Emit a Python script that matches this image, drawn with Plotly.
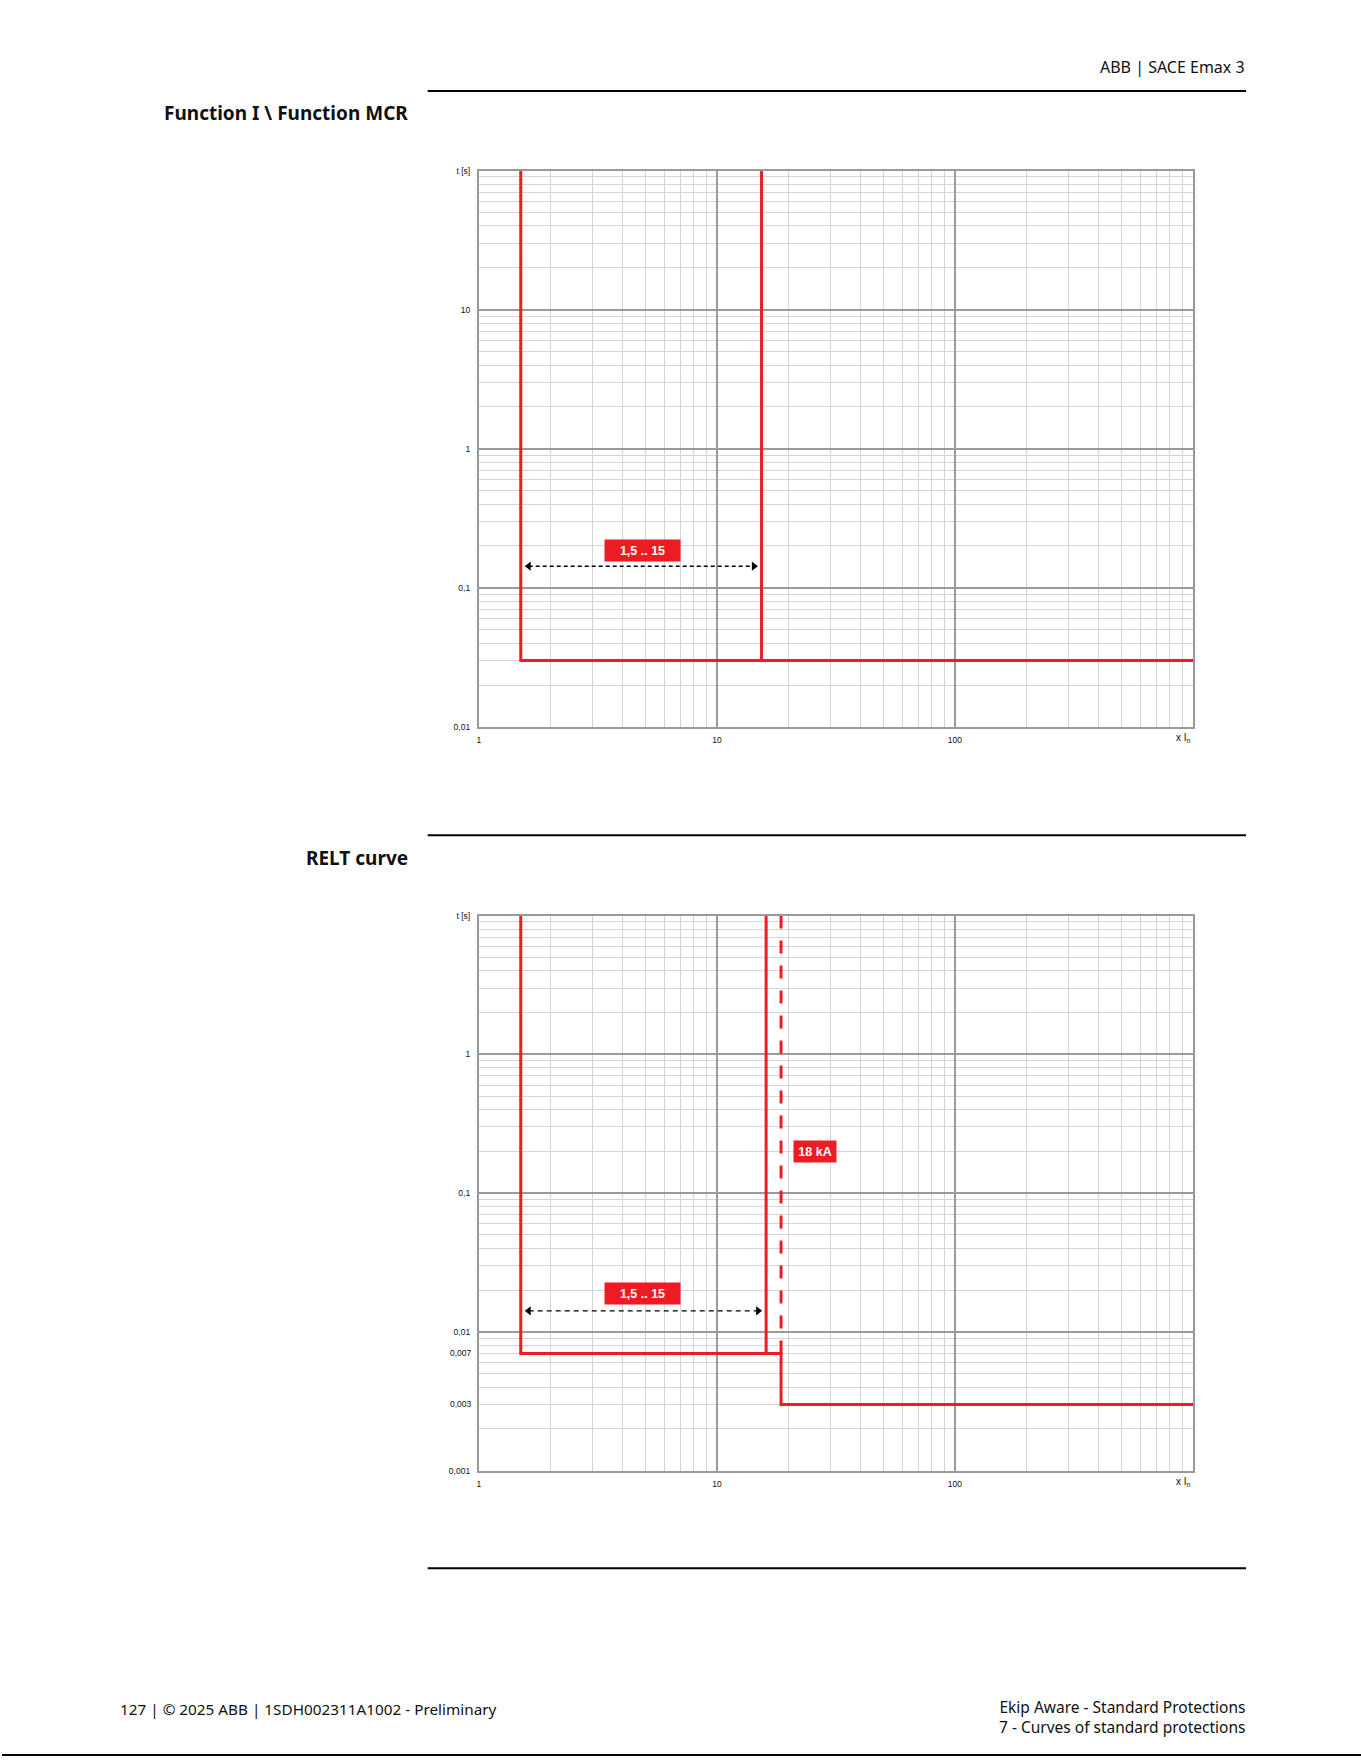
import math
import plotly.graph_objects as go

# ---------------- data ----------------
# Chart 1: Function I \ Function MCR
c1_curve_x = [1.5, 1.5, 1000]
c1_curve_t = [100, 0.03, 0.03]
c1_max_x = [15.4, 15.4]
c1_max_t = [100, 0.03]
c1_arrow_x = [1.62, 14.3]
c1_arrow_t = [0.143, 0.143]
c1_label = "1,5 .. 15"
c1_label_pos = [4.86, 0.185]

# Chart 2: RELT curve
c2_curve_x = [1.5, 1.5, 18.6, 18.6, 1000]
c2_curve_t = [10, 0.007, 0.007, 0.003, 0.003]
c2_max_x = [16.1, 16.1]
c2_max_t = [10, 0.007]
c2_dash_x = [18.6, 18.6]
c2_dash_t = [10, 0.007]
c2_arrow_x = [1.62, 14.9]
c2_arrow_t = [0.0142, 0.0142]
c2_label = "1,5 .. 15"
c2_label_pos = [4.86, 0.0188]
c2_ka_label = "18 kA"
c2_ka_pos = [25.8, 0.2]

x_tickvals = [1, 10, 100]
x_ticktext = ["1", "10", "100"]
x_unit_val = 1000
x_unit_text = "x I<sub>n</sub>"
y1_tickvals = [0.01, 0.1, 1, 10, 100]
y1_ticktext = ["0,01", "0,1", "1", "10", "t [s]"]
y2_tickvals = [0.001, 0.01, 0.1, 1, 10]
y2_ticktext = ["0,001", "0,01", "0,1", "1", "t [s]"]
y2_extra_vals = [0.007, 0.003]
y2_extra_text = ["0,007", "0,003"]

RED = "#ed1c24"
W, H = 1361, 1761
# small calibration of the page placement in the photographed window
SCX, BX = 1.0027, 0.45
SCY, BY = 1.00542, 3.88


def px_x(v):
    return (SCX * v - BX) / W


def px_y(v):
    return min(1.0, max(0.0, 1 - (SCY * v - BY) / H))


def minor_vals(lo_exp, hi_exp):
    return [m * 10 ** e for e in range(lo_exp, hi_exp) for m in range(2, 10)]


fig = go.Figure()

# chart 1 traces
fig.add_trace(go.Scatter(x=c1_curve_x, y=c1_curve_t, mode="lines",
                         line=dict(color=RED, width=3), xaxis="x", yaxis="y"))
fig.add_trace(go.Scatter(x=c1_max_x, y=c1_max_t, mode="lines",
                         line=dict(color=RED, width=3), xaxis="x", yaxis="y"))
fig.add_trace(go.Scatter(x=c1_arrow_x, y=c1_arrow_t, mode="lines+markers",
                         line=dict(color="black", width=1.6, dash="4px,3px"),
                         marker=dict(symbol=["triangle-left", "triangle-right"], size=8, color="black"),
                         xaxis="x", yaxis="y"))

# chart 2 traces
fig.add_trace(go.Scatter(x=c2_curve_x, y=c2_curve_t, mode="lines",
                         line=dict(color=RED, width=3), xaxis="x2", yaxis="y2"))
fig.add_trace(go.Scatter(x=c2_max_x, y=c2_max_t, mode="lines",
                         line=dict(color=RED, width=3), xaxis="x2", yaxis="y2"))
fig.add_trace(go.Scatter(x=c2_dash_x, y=c2_dash_t, mode="lines",
                         line=dict(color=RED, width=3, dash="13px,12px"), xaxis="x2", yaxis="y2"))
fig.add_trace(go.Scatter(x=c2_arrow_x, y=c2_arrow_t, mode="lines+markers",
                         line=dict(color="black", width=1.2, dash="5px,4px"),
                         marker=dict(symbol=["triangle-left", "triangle-right"], size=8, color="black"),
                         xaxis="x2", yaxis="y2"))

tickfont = dict(family="Liberation Sans", size=8.5, color="#111")
common_axis = dict(
    type="log", showline=True, mirror=True, linecolor="#999", linewidth=2,
    showgrid=True, gridcolor="#9a9a9a", gridwidth=1.5,
    ticks="", tickfont=tickfont, zeroline=False, fixedrange=True,
)

xdom = [px_x(476.7), px_x(1190)]
fig.update_layout(
    xaxis=dict(common_axis, domain=xdom, range=[0, 3], anchor="y",
               tickvals=x_tickvals, ticktext=x_ticktext, ticklabelstandoff=4,
               minor=dict(tickvals=minor_vals(0, 3), showgrid=True, gridcolor="#d4d4d4", gridwidth=1.3)),
    yaxis=dict(common_axis, domain=[px_y(726), px_y(169.5)], range=[-2, 2], anchor="x",
               tickvals=y1_tickvals, ticktext=y1_ticktext, ticklabelstandoff=5,
               minor=dict(tickvals=minor_vals(-2, 2), showgrid=True, gridcolor="#d4d4d4", gridwidth=1.3)),
    xaxis2=dict(common_axis, domain=xdom, range=[0, 3], anchor="y2",
                tickvals=x_tickvals, ticktext=x_ticktext, ticklabelstandoff=4,
                minor=dict(tickvals=minor_vals(0, 3), showgrid=True, gridcolor="#d4d4d4", gridwidth=1.3)),
    yaxis2=dict(common_axis, domain=[px_y(1470), px_y(914.7)], range=[-3, 1], anchor="x2",
                tickvals=y2_tickvals, ticktext=y2_ticktext, ticklabelstandoff=5,
                minor=dict(tickvals=minor_vals(-3, 1), showgrid=True, gridcolor="#d4d4d4", gridwidth=1.3)),
    width=W, height=H, autosize=False,
    margin=dict(l=0, r=0, t=0, b=0),
    paper_bgcolor="white", plot_bgcolor="white",
    showlegend=False,
    font=dict(family="Noto Sans", color="black"),
)

annotations = []
for xr, yr, text, pos, w in [("x", "y", c1_label, c1_label_pos, 75),
                              ("x2", "y2", c2_label, c2_label_pos, 75),
                              ("x2", "y2", c2_ka_label, c2_ka_pos, 42)]:
    annotations.append(dict(x=math.log10(pos[0]), y=math.log10(pos[1]), xref=xr, yref=yr,
                            text="<b>%s</b>" % text, showarrow=False, bgcolor=RED,
                            font=dict(family="Liberation Sans", size=12.5, color="white"),
                            width=w, height=21, borderpad=0, align="center"))
for v, t in zip(y2_extra_vals, y2_extra_text):
    annotations.append(dict(x=xdom[0], y=math.log10(v), xref="paper", yref="y2", text=t,
                            showarrow=False, xanchor="right", xshift=-5, font=tickfont))
# unit label at the right end of each x axis
for xr, yr in [("x", "y domain"), ("x2", "y2 domain")]:
    annotations.append(dict(x=math.log10(x_unit_val), y=0, xref=xr, yref=yr, text=x_unit_text,
                            showarrow=False, xanchor="right", yanchor="top", yshift=-3,
                            font=dict(family="Liberation Sans", size=10, color="#111")))

page_font = dict(size=16, family="Noto Sans", color="#111")
foot_font = dict(size=15.3, family="Noto Sans", color="#111")
title_font = dict(size=19, family="Noto Sans", color="#111")
annotations += [
    dict(x=px_x(1244), y=px_y(66), xref="paper", yref="paper", text="ABB | SACE Emax 3",
         showarrow=False, xanchor="right", yanchor="middle", font=page_font),
    dict(x=px_x(408), y=px_y(112), xref="paper", yref="paper", text="<b>Function I \\ Function MCR</b>",
         showarrow=False, xanchor="right", yanchor="middle", font=title_font),
    dict(x=px_x(408), y=px_y(857), xref="paper", yref="paper", text="<b>RELT curve</b>",
         showarrow=False, xanchor="right", yanchor="middle", font=title_font),
    dict(x=px_x(116), y=px_y(1708), xref="paper", yref="paper",
         text="127 | © 2025 ABB | 1SDH002311A1002 - Preliminary",
         showarrow=False, xanchor="left", yanchor="middle", font=foot_font),
    dict(x=px_x(1244), y=px_y(1716.5), xref="paper", yref="paper",
         text="Ekip Aware - Standard Protections<br>7 - Curves of standard protections",
         showarrow=False, xanchor="right", yanchor="middle", align="right",
         font=dict(size=15.5, family="Noto Sans", color="#111")),
]
fig.update_layout(annotations=annotations)

shapes = []
for yy in [89.8, 834.3, 1567.6]:
    shapes.append(dict(type="line", xref="paper", yref="paper", x0=px_x(425.6), x1=px_x(1243),
                       y0=px_y(yy), y1=px_y(yy), line=dict(color="black", width=2)))
shapes.append(dict(type="line", xref="paper", yref="paper", x0=0, x1=1,
                   y0=0.0006, y1=0.0006, line=dict(color="black", width=2)))
fig.update_layout(shapes=shapes)

fig.write_html("out.html", config={"displayModeBar": False},
               post_script="document.body.style.margin='0';document.documentElement.style.overflow='hidden';")
